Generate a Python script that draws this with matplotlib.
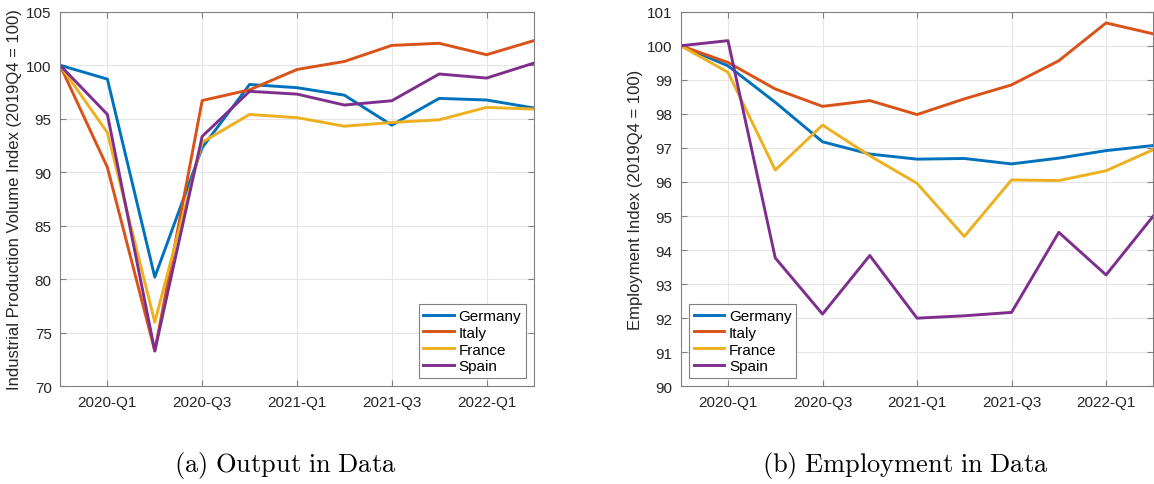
import numpy as np
import matplotlib
matplotlib.use('Agg')
import matplotlib.pyplot as plt

# quarters 2019Q4 .. 2022Q2
quarters = ['2019-Q4', '2020-Q1', '2020-Q2', '2020-Q3', '2020-Q4', '2021-Q1',
            '2021-Q2', '2021-Q3', '2021-Q4', '2022-Q1', '2022-Q2']
countries = ['Germany', 'Italy', 'France', 'Spain']
colors = ['#0072BD', '#D95319', '#EDB120', '#7E2F8E']

# industrial production volume index
ip_germany = [100, 98.7, 80.2, 92.3, 98.2, 97.9, 97.2, 94.4, 96.9, 96.75, 96.0]
ip_italy = [100, 90.45, 73.3, 96.7, 97.7, 99.6, 100.35, 101.85, 102.05, 100.98, 102.3]
ip_france = [100, 93.7, 76.0, 92.8, 95.4, 95.1, 94.3, 94.65, 94.9, 96.06, 95.9]
ip_spain = [100, 95.4, 73.3, 93.35, 97.56, 97.3, 96.28, 96.68, 99.18, 98.8, 100.2]

# employment index
emp_germany = [100, 99.41, 98.34, 97.18, 96.82, 96.67, 96.69, 96.53, 96.70, 96.92, 97.07]
emp_italy = [100, 99.51, 98.73, 98.22, 98.39, 97.98, 98.44, 98.85, 99.56, 100.67, 100.35]
emp_france = [100, 99.22, 96.35, 97.67, 96.77, 95.96, 94.40, 96.06, 96.04, 96.33, 96.95]
emp_spain = [100, 100.15, 93.77, 92.12, 93.84, 92.0, 92.07, 92.17, 94.52, 93.27, 95.0]

plt.rcParams['font.family'] = ['Liberation Sans', 'DejaVu Sans']
plt.rcParams['mathtext.fontset'] = 'cm'

fig = plt.figure(figsize=(11.54, 4.85), dpi=100)
ax1 = fig.add_axes([0.052, 0.2015, 0.4107, 0.7723])
ax2 = fig.add_axes([0.5899, 0.2015, 0.4095, 0.7723])

x = np.arange(len(quarters))
tick_pos = x[1::2]
tick_lab = [quarters[i] for i in tick_pos]


def style(ax, ylo, yhi, step, ylabel):
    ax.set_xlim(0, len(quarters) - 1)
    ax.set_ylim(ylo, yhi)
    ax.set_yticks(np.arange(ylo, yhi + 0.01, step))
    ax.set_xticks(tick_pos)
    ax.set_xticklabels(tick_lab)
    ax.grid(True, color='#e6e6e6', linewidth=0.8)
    ax.set_axisbelow(True)
    for s in ax.spines.values():
        s.set_color('#808080')
        s.set_linewidth(0.8)
    ax.tick_params(direction='in', top=True, right=True, length=4,
                   color='#808080', labelsize=11, labelcolor='#262626', pad=6)
    ax.set_ylabel(ylabel, fontsize=12, color='#262626', labelpad=3)


series1 = [ip_germany, ip_italy, ip_france, ip_spain]
series2 = [emp_germany, emp_italy, emp_france, emp_spain]
for vals, name, c in zip(series1, countries, colors):
    ax1.plot(x, vals, color=c, linewidth=2.1, label=name)
for vals, name, c in zip(series2, countries, colors):
    ax2.plot(x, vals, color=c, linewidth=2.1, label=name)

style(ax1, 70, 105, 5, 'Industrial Production Volume Index (2019Q4 = 100)')
style(ax2, 90, 101, 1, 'Employment Index (2019Q4 = 100)')

for ax, loc in [(ax1, 'lower right'), (ax2, 'lower left')]:
    leg = ax.legend(loc=loc, fontsize=11, handlelength=2.0, handletextpad=0.3,
                    labelspacing=0.18, borderpad=0.3, borderaxespad=0.55,
                    fancybox=False, framealpha=1)
    leg.get_frame().set_edgecolor('#808080')
    leg.get_frame().set_linewidth(0.8)

fig.text(0.2474, 0.027, r'$\mathrm{(a)\ Output\ in\ Data}$', ha='center',
         va='baseline', fontsize=19)
fig.text(0.7847, 0.027, r'$\mathrm{(b)\ Employment\ in\ Data}$', ha='center',
         va='baseline', fontsize=19)

fig.savefig('out.png', dpi=100)
